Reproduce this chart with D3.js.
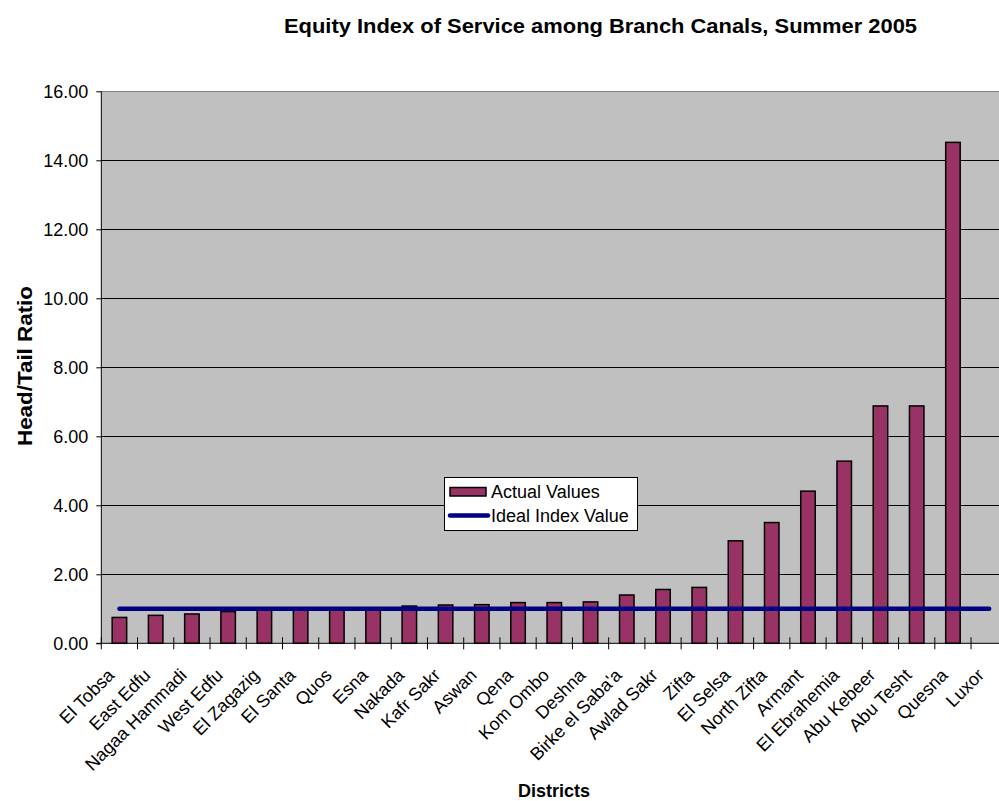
<!DOCTYPE html>
<html>
<head>
<meta charset="utf-8">
<script src="https://cdn.jsdelivr.net/npm/d3@7"></script>
<style>
  html, body { margin: 0; padding: 0; background: #fff; }
  svg { display: block; font-family: "Liberation Sans", Arial, sans-serif; }
</style>
</head>
<body>
<svg id="chart" width="999" height="801"></svg>
<script>
// Districts along the x axis
const districts = ["El Tobsa", "East Edfu", "Nagaa Hammadi", "West Edfu", "El Zagazig",
  "El Santa", "Quos", "Esna", "Nakada", "Kafr Sakr", "Aswan", "Qena", "Kom Ombo",
  "Deshna", "Birke el Saba'a", "Awlad Sakr", "Zifta", "El Selsa", "North Zifta",
  "Armant", "El Ebrahemia", "Abu Kebeer", "Abu Tesht", "Quesna", "Luxor"];

// Head/Tail ratio per district (no value recorded for Luxor)
const actualValues = [0.75, 0.81, 0.85, 0.92, 0.97, 0.98, 0.99, 1.00, 1.08, 1.11, 1.12,
  1.18, 1.18, 1.20, 1.40, 1.56, 1.62, 2.97, 3.50, 4.41, 5.28, 6.88, 6.88, 14.52, null];

// Ideal equity index: head and tail served equally
const idealValues = districts.map(() => 1);

const yTicks = [0, 2, 4, 6, 8, 10, 12, 14, 16];

const svg = d3.select("#chart");
const plot = { left: 101.3, top: 91.3, right: 1007.3, bottom: 643.3 };

const x = d3.scaleBand().domain(districts).range([plot.left, plot.right]).paddingInner(0.6).paddingOuter(0.3);
const band = d3.scaleBand().domain(districts).range([plot.left, plot.right]);
const y = d3.scaleLinear().domain([0, 16]).range([plot.bottom, plot.top]);

// Plot background
svg.append("rect")
  .attr("x", plot.left).attr("y", plot.top)
  .attr("width", plot.right - plot.left).attr("height", plot.bottom - plot.top)
  .attr("fill", "#c0c0c0");

// Horizontal gridlines
svg.append("g").selectAll("line").data(yTicks.filter(d => d > 0)).join("line")
  .attr("x1", plot.left).attr("x2", plot.right)
  .attr("y1", d => Math.round(y(d)) + 0.5).attr("y2", d => Math.round(y(d)) + 0.5)
  .attr("stroke", d => d === 16 ? "#808080" : "#000")
  .attr("stroke-width", 1);

// Bars
svg.append("g").selectAll("rect")
  .data(districts.map((d, i) => ({ d, v: actualValues[i] })).filter(e => e.v != null))
  .join("rect")
  .attr("x", e => x(e.d))
  .attr("width", x.bandwidth())
  .attr("y", e => y(e.v))
  .attr("height", e => y(0) - y(e.v))
  .attr("fill", "#993366")
  .attr("stroke", "#000")
  .attr("stroke-width", 1.5);

// Ideal index line
const line = d3.line()
  .x(d => band(d.d) + band.bandwidth() / 2)
  .y(d => y(d.v));
svg.append("path")
  .datum(districts.map((d, i) => ({ d, v: idealValues[i] })))
  .attr("d", line)
  .attr("fill", "none")
  .attr("stroke", "#000080")
  .attr("stroke-width", 4.5)
  .attr("stroke-linecap", "round");

// Y axis
const yAxis = d3.axisLeft(y).tickValues(yTicks).tickFormat(d3.format(".2f")).tickSize(5).tickPadding(8);
const gy = svg.append("g").attr("transform", `translate(${plot.left},0)`).call(yAxis);
gy.select(".domain").attr("stroke", "#000").attr("d", `M0,${plot.top}V${plot.bottom}`);
gy.selectAll(".tick line").attr("stroke", "#000");
gy.selectAll("text").attr("font-size", 18).attr("fill", "#000")
  .attr("font-family", "Liberation Sans, Arial, sans-serif");

// X axis line and category ticks
svg.append("line")
  .attr("x1", plot.left - 5).attr("x2", plot.right)
  .attr("y1", plot.bottom).attr("y2", plot.bottom)
  .attr("stroke", "#000");
svg.append("g").selectAll("line").data(districts).join("line")
  .attr("x1", d => band(d)).attr("x2", d => band(d))
  .attr("y1", plot.bottom - 6).attr("y2", plot.bottom + 6)
  .attr("stroke", "#000");

// Rotated district labels
svg.append("g").selectAll("text").data(districts).join("text")
  .attr("transform", d => `translate(${band(d) + band.bandwidth() / 2 - 4},${plot.bottom + 33}) rotate(-45)`)
  .attr("text-anchor", "end")
  .attr("font-size", 18)
  .text(d => d);

// Titles
svg.append("text")
  .attr("x", 284).attr("y", 33)
  .attr("textLength", 633).attr("lengthAdjust", "spacingAndGlyphs")
  .attr("font-weight", "bold").attr("font-size", 20)
  .text("Equity Index of Service among Branch Canals, Summer 2005");

svg.append("text")
  .attr("transform", `translate(32,446) rotate(-90)`)
  .attr("textLength", 160).attr("lengthAdjust", "spacingAndGlyphs")
  .attr("font-weight", "bold").attr("font-size", 20)
  .text("Head/Tail Ratio");

svg.append("text")
  .attr("x", 554).attr("y", 797)
  .attr("text-anchor", "middle")
  .attr("font-weight", "bold").attr("font-size", 18)
  .text("Districts");

// Legend
const legend = svg.append("g");
legend.append("rect")
  .attr("x", 444.5).attr("y", 477.5).attr("width", 193).attr("height", 53)
  .attr("fill", "#fff").attr("stroke", "#000");
legend.append("rect")
  .attr("x", 450).attr("y", 487.5).attr("width", 36).attr("height", 8.5)
  .attr("fill", "#993366").attr("stroke", "#000").attr("stroke-width", 1.5);
legend.append("line")
  .attr("x1", 450).attr("x2", 488).attr("y1", 515.5).attr("y2", 515.5)
  .attr("stroke", "#000080").attr("stroke-width", 4.5).attr("stroke-linecap", "round");
legend.append("text").attr("x", 491).attr("y", 497.5).attr("font-size", 18).text("Actual Values");
legend.append("text").attr("x", 491).attr("y", 522).attr("font-size", 18).text("Ideal Index Value");
</script>
</body>
</html>
